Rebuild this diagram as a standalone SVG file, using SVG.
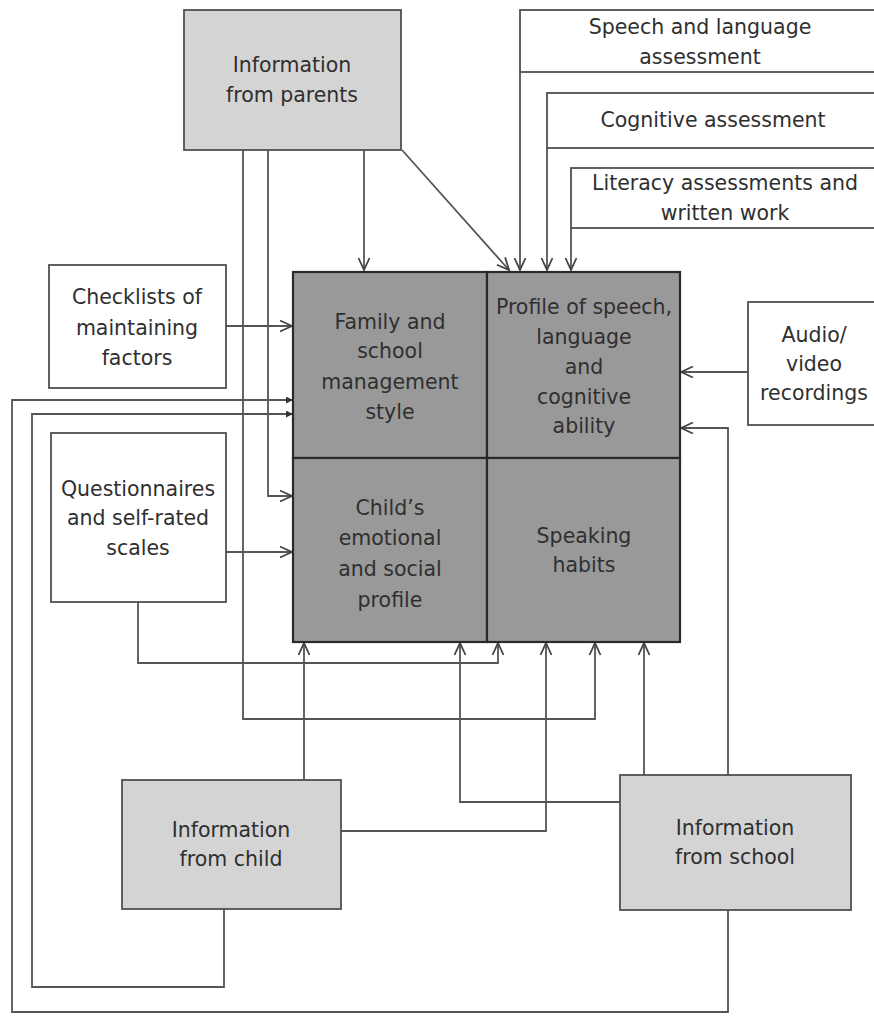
<svg xmlns="http://www.w3.org/2000/svg" width="874" height="1016" viewBox="0 0 874 1016">
<style>
text{font-family:"DejaVu Sans","Liberation Sans",sans-serif;font-size:20.5px;fill:#2f2f2f;text-anchor:middle}
.src{fill:#d4d4d4;stroke:#505050;stroke-width:1.8}
.wb{fill:#fff;stroke:#505050;stroke-width:1.8}
.cell{fill:#999;stroke:#2a2a2a;stroke-width:2.2}
.ln{fill:none;stroke:#555;stroke-width:1.8}
.ar{marker-end:url(#arr)}
.dt{marker-end:url(#dot)}
</style>
<defs>
<marker id="arr" viewBox="0 0 14 14" refX="13" refY="7" markerWidth="14" markerHeight="14" markerUnits="userSpaceOnUse" orient="auto">
<path d="M1,1.5 L13,7 L1,12.5" fill="none" stroke="#444" stroke-width="1.8"/>
</marker>
<marker id="dot" viewBox="0 0 8 8" refX="7" refY="4" markerWidth="7" markerHeight="7" markerUnits="userSpaceOnUse" orient="auto">
<path d="M0,0 L8,4 L0,8 Z" fill="#333"/>
</marker>
</defs>
<g id="connectors">
<path class="ln ar" d="M364,150 V270"/>
<path class="ln ar" d="M402,150 L509,270"/>
<path class="ln ar" d="M520,72 V270"/>
<path class="ln ar" d="M547,148 V270"/>
<path class="ln ar" d="M571,228 V270"/>
<path class="ln ar" d="M226,326 H292"/>
<path class="ln ar" d="M748,372 H681"/>
<path class="ln ar" d="M728,775 V428 H681"/>
<path class="ln ar" d="M268,150 V496 H292"/>
<path class="ln ar" d="M226,552 H292"/>
<path class="ln ar" d="M243,150 V719 H595 V643"/>
<path class="ln ar" d="M138,602 V663 H498 V643"/>
<path class="ln ar" d="M304,780 V643"/>
<path class="ln ar" d="M341,831 H546 V643"/>
<path class="ln ar" d="M620,802 H460 V643"/>
<path class="ln ar" d="M644,775 V643"/>
<path class="ln dt" d="M224,909 V987 H32 V414 H292"/>
<path class="ln dt" d="M728,910 V1012 H12 V400 H292"/>
</g>
<g id="parents">
<rect class="src" x="184" y="10" width="217" height="140"/>
<text x="292" y="72">Information</text>
<text x="292" y="102">from parents</text>
</g>
<g id="speech-assessment">
<rect class="wb" x="520" y="10" width="370" height="62"/>
<text x="700" y="34">Speech and language</text>
<text x="700" y="64">assessment</text>
</g>
<g id="cognitive-assessment">
<rect class="wb" x="547" y="93" width="340" height="55"/>
<text x="713" y="127">Cognitive assessment</text>
</g>
<g id="literacy">
<rect class="wb" x="571" y="168" width="320" height="60"/>
<text x="725" y="190">Literacy assessments and</text>
<text x="725" y="220">written work</text>
</g>
<g id="checklists">
<rect class="wb" x="49" y="265" width="177" height="123"/>
<text x="137" y="304">Checklists of</text>
<text x="137" y="335">maintaining</text>
<text x="137" y="365">factors</text>
</g>
<g id="audio-video">
<rect class="wb" x="748" y="302" width="140" height="123"/>
<text x="814" y="342">Audio/</text>
<text x="814" y="371">video</text>
<text x="814" y="400">recordings</text>
</g>
<g id="questionnaires">
<rect class="wb" x="51" y="433" width="175" height="169"/>
<text x="138" y="496">Questionnaires</text>
<text x="138" y="525">and self-rated</text>
<text x="138" y="555">scales</text>
</g>
<g id="family-school">
<rect class="cell" x="293" y="272" width="194" height="186"/>
<text x="390" y="329">Family and</text>
<text x="390" y="358">school</text>
<text x="390" y="389">management</text>
<text x="390" y="419">style</text>
</g>
<g id="profile-speech">
<rect class="cell" x="487" y="272" width="193" height="186"/>
<text x="584" y="314">Profile of speech,</text>
<text x="584" y="344">language</text>
<text x="584" y="374">and</text>
<text x="584" y="404">cognitive</text>
<text x="584" y="433">ability</text>
</g>
<g id="child-emotional">
<rect class="cell" x="293" y="458" width="194" height="184"/>
<text x="390" y="515">Child’s</text>
<text x="390" y="545">emotional</text>
<text x="390" y="576">and social</text>
<text x="390" y="607">profile</text>
</g>
<g id="speaking-habits">
<rect class="cell" x="487" y="458" width="193" height="184"/>
<text x="584" y="543">Speaking</text>
<text x="584" y="572">habits</text>
</g>
<g id="child">
<rect class="src" x="122" y="780" width="219" height="129"/>
<text x="231" y="837">Information</text>
<text x="231" y="866">from child</text>
</g>
<g id="school">
<rect class="src" x="620" y="775" width="231" height="135"/>
<text x="735" y="835">Information</text>
<text x="735" y="864">from school</text>
</g>
</svg>
